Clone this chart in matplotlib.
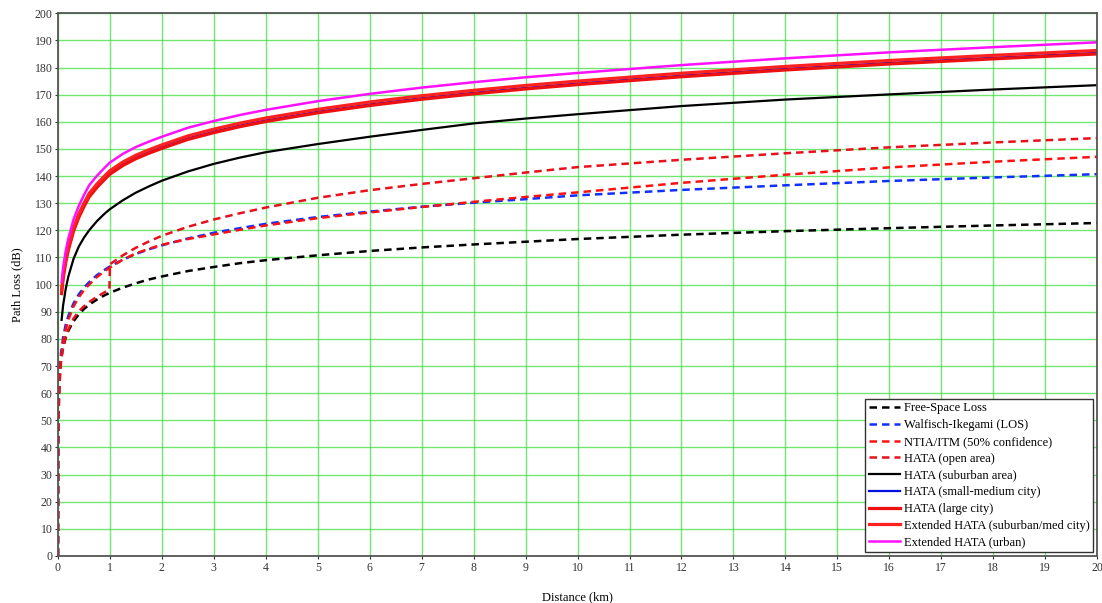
import matplotlib
matplotlib.use("Agg")
import matplotlib.pyplot as plt

plt.rcParams['font.family'] = ['Liberation Serif', 'DejaVu Serif']

# ---- data (distance km, path loss dB) ----
d_dash = [0, 0.003, 0.01, 0.03, 0.06, 0.1, 0.15, 0.2, 0.3, 0.4, 0.5, 0.6, 0.75, 0.9,
          1, 1.25, 1.5, 1.75, 2, 2.5, 3, 3.5, 4, 5, 6, 7, 8, 9, 10, 12, 14, 16, 18, 20]
free_space = [0, 46.5, 57, 66.5, 72.6, 77, 80.5, 83, 86.5, 89, 91, 92.6, 94.5, 96.1,
              97, 98.9, 100.5, 101.9, 103, 105, 106.5, 107.9, 109, 110.8, 112.4, 113.7,
              114.8, 115.8, 116.8, 118.4, 119.7, 120.8, 121.8, 122.7]
walfisch = [0, 41, 54.7, 67.1, 74.9, 80.7, 85.3, 88.5, 93.1, 96.4, 98.9, 100.9, 103.5, 105.5,
            106.7, 109.2, 111.3, 113, 114.5, 117, 119.1, 120.8, 122.4, 124.9, 126.9, 128.7,
            130.2, 131.5, 132.9, 134.9, 136.6, 138.2, 139.5, 140.7]
ntia = [0, 38, 52, 65, 73, 79, 83.5, 87, 92, 95.3, 98, 100, 102.8, 105,
        106.3, 109.2, 111.5, 113.2, 114.7, 116.8, 118.5, 120.2, 121.8, 124.5, 126.6, 128.6,
        130.5, 132.3, 134, 137.5, 140.5, 143.2, 145.3, 147.1]

d_open = [0, 0.003, 0.01, 0.03, 0.06, 0.1, 0.15, 0.2, 0.3, 0.4, 0.5, 0.6, 0.75, 0.9, 0.99,
          1, 1.25, 1.5, 1.75, 2, 2.5, 3, 3.5, 4, 5, 6, 7, 8, 9, 10, 12, 14, 16, 18, 20]
hata_open = [0, 35, 50, 63, 72, 77, 80.8, 83.5, 87.5, 90.2, 92, 93.6, 95.5, 97.2, 98,
             107.5, 110.8, 113.6, 115.9, 118, 121.3, 124, 126.3, 128.4, 132, 134.8, 137.1,
             139.2, 141.3, 143.3, 146, 148.4, 150.6, 152.4, 154]

d_solid = [0.07, 0.1, 0.15, 0.2, 0.3, 0.4, 0.5, 0.6, 0.75, 0.9,
           1, 1.25, 1.5, 1.75, 2, 2.5, 3, 3.5, 4, 5,
           6, 7, 8, 9, 10, 12, 14, 16, 18, 20]
hata_suburban = [87, 92.5, 98.5, 103, 109.5, 114, 117.3, 120, 123.4, 126.2,
                 127.8, 131.1, 133.9, 136.2, 138.3, 141.7, 144.5, 146.8, 148.8, 151.8,
                 154.5, 157, 159.4, 161.2, 162.8, 165.8, 168.2, 170.1, 171.9, 173.5]
# small-medium city sits under the red curves in the reference
hata_small = [97.1, 102.6, 108.6, 113.1, 120.1, 125.1, 129.1, 132.7, 136.2, 139.2,
              141.1, 144.3, 146.8, 148.8, 150.6, 153.9, 156.4, 158.6, 160.5, 163.7,
              166.4, 168.7, 170.7, 172.5, 174.1, 177, 179.5, 181.7, 183.6, 185.4]
hata_large = [96.7, 102.2, 108.2, 112.7, 119.7, 124.7, 128.7, 132.3, 135.8, 138.8,
              140.7, 143.9, 146.4, 148.4, 150.2, 153.5, 156, 158.2, 160.1, 163.3,
              166, 168.3, 170.3, 172.1, 173.7, 176.6, 179.1, 181.3, 183.2, 185]
ext_suburban = [98, 103.5, 109.5, 114, 121, 126, 130, 133.6, 137.1, 140.1,
                142, 145.2, 147.7, 149.7, 151.5, 154.8, 157.3, 159.5, 161.4, 164.6,
                167.3, 169.6, 171.6, 173.4, 175, 177.9, 180.4, 182.6, 184.5, 186.3]
ext_urban = [101, 106.5, 112.5, 117, 124, 129, 133, 136.6, 140.1, 143.1,
             145, 148.2, 150.7, 152.7, 154.5, 157.8, 160.3, 162.5, 164.4, 167.6,
             170.3, 172.6, 174.6, 176.4, 178, 180.9, 183.4, 185.6, 187.5, 189.3]

labels = ['Free-Space Loss', 'Walfisch-Ikegami (LOS)', 'NTIA/ITM (50% confidence)',
          'HATA (open area)', 'HATA (suburban area)', 'HATA (small-medium city)',
          'HATA (large city)', 'Extended HATA (suburban/med city)',
          'Extended HATA (urban)']

fig = plt.figure(figsize=(11.02, 6.03), dpi=100)
ax = fig.add_axes([0.0526, 0.078, 0.943, 0.9])

dash = (0, (3, 2))
ax.plot(d_dash, free_space, color='black', lw=1.8, ls=dash, label=labels[0])
ax.plot(d_dash, walfisch, color='#1030ff', lw=1.8, ls=dash, label=labels[1])
ax.plot(d_dash, ntia, color='#ff1010', lw=1.8, ls=dash, label=labels[2])
ax.plot(d_open, hata_open, color='#e8101a', lw=1.8, ls=dash, label=labels[3])
ax.plot(d_solid, hata_suburban, color='black', lw=1.6, label=labels[4])
ax.plot(d_solid, hata_small, color='#0010e0', lw=1.6, label=labels[5])
ax.plot(d_solid, hata_large, color='#ee1010', lw=2.3, label=labels[6])
ax.plot(d_solid, ext_suburban, color='#ff2020', lw=2.3, label=labels[7])
ax.plot(d_solid, ext_urban, color='#ff10ff', lw=1.8, label=labels[8])

ax.set_xlim(0, 20)
ax.set_ylim(0, 200)
ax.set_xticks(range(0, 21))
ax.set_yticks(range(0, 201, 10))
ax.grid(True, color='#44dd44', lw=1.0, alpha=0.75)
ax.set_axisbelow(True)
ax.tick_params(length=2, labelsize=8.5, colors='#333333', pad=2)
for sp in ax.spines.values():
    sp.set_color('#555555')
    sp.set_linewidth(1.3)

ax.set_xlabel('Distance (km)', fontsize=9, labelpad=13)
ax.set_ylabel('Path Loss (dB)', fontsize=9, labelpad=8)

leg = ax.legend(loc='lower right', fontsize=9, frameon=True, fancybox=False,
                framealpha=1, edgecolor='#333333', borderaxespad=0.3,
                handlelength=2.5, labelspacing=0.38, borderpad=0.3,
                handletextpad=0.3)
leg.get_frame().set_linewidth(1.0)

fig.savefig('out.png', dpi=100)
